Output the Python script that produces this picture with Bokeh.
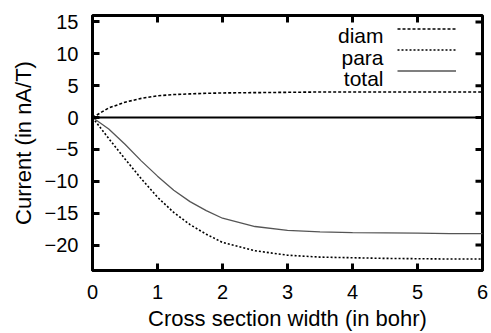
import math
from bokeh.plotting import figure
from bokeh.models import (LinearAxis, FixedTicker, Span, Legend, LegendItem, Label, Range1d)
from bokeh.embed import file_html
from bokeh.resources import INLINE

# Data
width_bohr = [0, 0.25, 0.5, 0.75, 1, 1.25, 1.5, 1.75, 2, 2.5, 3, 3.5, 4, 4.5, 5, 5.5, 6]
diam = [0, 1.5, 2.4, 3.0, 3.4, 3.6, 3.7, 3.8, 3.85, 3.9, 3.95, 4.0, 4.0, 4.0, 4.0, 4.0, 4.0]
para = [0, -3.3, -6.5, -9.6, -12.5, -14.9, -16.8, -18.3, -19.6, -20.9, -21.6, -21.9, -22.0, -22.1, -22.15, -22.2, -22.2]
total = [0, -1.8, -4.2, -6.8, -9.2, -11.4, -13.2, -14.6, -15.8, -17.1, -17.7, -17.95, -18.05, -18.1, -18.15, -18.2, -18.2]
x_ticks = [0, 1, 2, 3, 4, 5, 6]
y_ticks = [-20, -15, -10, -5, 0, 5, 10, 15]
x_min, x_max = 0, 6
y_min, y_max = -24, 16
series_names = ["diam", "para", "total"]
x_title = "Cross section width (in bohr)"
y_title = "Current (in nA/T)"

FONT = "Liberation Sans"
TICK_FS = "20px"
TITLE_FS = "22px"
LEGEND_FS = "21px"

p = figure(width=491, height=333, output_backend="svg", toolbar_location=None,
           x_range=Range1d(x_min, x_max), y_range=Range1d(y_min, y_max),
           min_border_left=92, min_border_right=9, min_border_top=15, min_border_bottom=60,
           x_axis_location=None, y_axis_location=None)
p.grid.visible = False
p.outline_line_color = "black"
p.outline_line_width = 3
p.background_fill_color = "white"
p.border_fill_color = "white"

def style_axis(ax, ticks):
    ax.ticker = FixedTicker(ticks=ticks)
    ax.axis_line_width = 3
    ax.axis_line_color = "black"
    ax.major_tick_in = 7
    ax.major_tick_out = 0
    ax.major_tick_line_width = 3
    ax.major_tick_line_color = "black"
    ax.minor_tick_line_color = None
    ax.major_label_text_font = FONT
    ax.major_label_text_color = "black"
    ax.major_label_text_font_size = TICK_FS
    ax.axis_label_text_font = FONT
    ax.axis_label_text_font_style = "normal"
    ax.axis_label_text_color = "black"
    ax.axis_label_text_font_size = TITLE_FS

xb = LinearAxis(axis_label=x_title)
style_axis(xb, x_ticks)
xb.major_label_standoff = 14
xb.axis_label_standoff = 4
p.add_layout(xb, "below")

yl = LinearAxis(axis_label=y_title)
style_axis(yl, y_ticks)
yl.major_label_standoff = 14
yl.axis_label_standoff = 6
p.add_layout(yl, "left")

# inward ticks on the top and right edges of the frame
inner_x = x_ticks[1:-1]
p.scatter(inner_x, [y_max] * len(inner_x), marker="dash", angle=math.pi / 2,
          size=14, line_color="black", line_width=3)
p.scatter([x_max] * len(y_ticks), y_ticks, marker="dash",
          size=14, line_color="black", line_width=3)

p.add_layout(Span(location=0, dimension="width", line_color="black", line_width=2))

r_diam = p.line(width_bohr, diam, line_color="black", line_width=1.6, line_dash="3 2")
r_para = p.line(width_bohr, para, line_color="black", line_width=1.6, line_dash="2 2")
r_total = p.line(width_bohr, total, line_color="#555555", line_width=1.3)

legend = Legend(items=[LegendItem(label=" ", renderers=[r]) for r in (r_diam, r_para, r_total)],
                location=(305, 189), glyph_width=59, glyph_height=21, spacing=0,
                padding=0, margin=0, label_width=0, label_standoff=0,
                label_text_font=FONT, label_text_font_size="12px",
                background_fill_alpha=0, border_line_alpha=0)
p.add_layout(legend, "center")

for i, name in enumerate(series_names):
    p.add_layout(Label(x=291, y=234.7 - 21.5 * i, x_units="screen", y_units="screen",
                       text=name, text_align="right", text_baseline="alphabetic",
                       text_font=FONT, text_font_size=LEGEND_FS, text_color="black"))

open("out.html", "w").write(file_html(p, INLINE))
